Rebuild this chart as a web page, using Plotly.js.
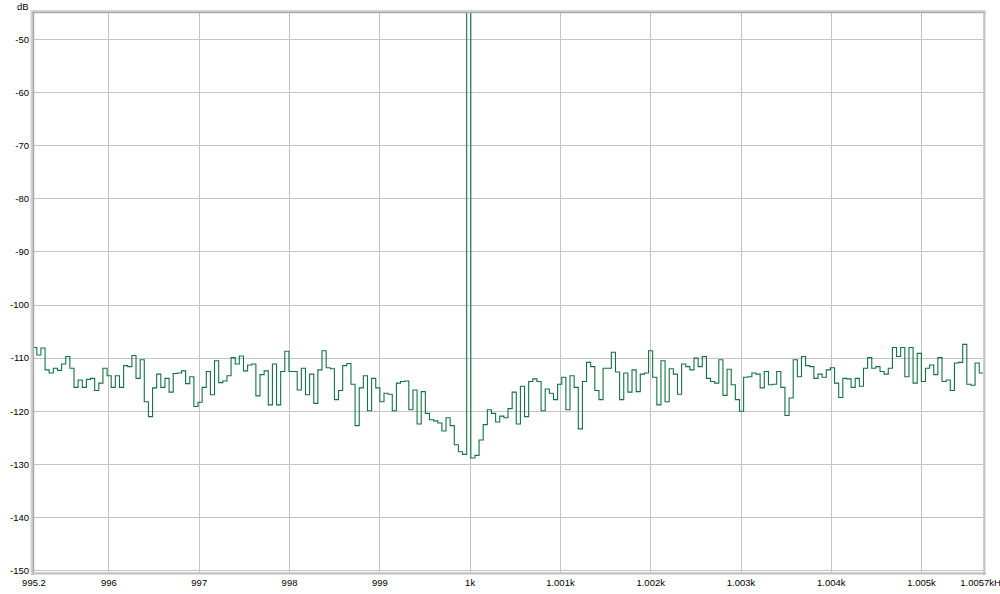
<!DOCTYPE html>
<html>
<head>
<meta charset="utf-8">
<script src="https://cdn.plot.ly/plotly-3.0.1.min.js"></script>
<style>
  html, body { margin: 0; padding: 0; background: #ffffff; }
  #chart { width: 1000px; height: 594px; }
</style>
</head>
<body>
<div id="chart"></div>
<script>
// FFT bin grid (Hz): bin width and index of the first bin shown
const binWidthHz = 48000 / 1048576;
const firstBinIndex = 21740;

// Level per bin (dB), left of the 1 kHz tone
const levelsBelowTone = [
  -108.0, -109.4, -108.1, -112.2, -112.8, -111.9, -112.3, -111.1, -109.7, -111.9,
  -115.5, -114.1, -115.5, -114.0, -113.8, -116.1, -114.7, -111.9, -113.3, -115.5,
  -113.3, -115.5, -111.4, -111.6, -109.5, -113.8, -110.3, -118.2, -121.0, -115.6,
  -113.0, -115.5, -113.8, -116.4, -112.9, -112.8, -112.4, -114.8, -113.5, -119.1,
  -118.3, -115.5, -112.5, -116.9, -110.5, -114.6, -114.3, -113.3, -109.9, -111.1,
  -109.6, -112.4, -111.3, -111.1, -117.1, -113.1, -112.4, -118.8, -111.1, -118.8,
  -112.5, -108.7, -112.5, -112.5, -116.0, -111.9, -116.9, -113.0, -118.5, -112.2,
  -108.6, -111.8, -112.0, -117.8, -116.1, -111.4, -111.0,
  -114.9, -122.7, -115.6, -113.3, -119.9, -113.8, -115.6, -118.2, -116.6, -116.8,
  -119.9, -114.7, -114.4, -114.3, -119.7, -116.0, -122.4, -116.3, -120.4, -121.6,
  -121.8, -122.2, -123.7, -121.2, -122.7, -126.3, -127.6, -128.1
];
// Level of the tone bin (off scale)
const toneLevel = [-5];
// Level per bin (dB), right of the tone
const levelsAboveTone = [
  -128.8, -128.3, -125.4, -122.5, -119.7, -120.4, -122.0, -120.9, -121.2, -119.5,
  -116.4, -122.4, -115.3, -121.0, -114.4, -113.9, -114.4, -119.9, -115.8, -116.6,
  -117.8, -114.9, -113.6, -119.7, -113.3, -115.5, -123.3, -114.4, -110.8, -111.6,
  -116.1, -117.8, -111.9, -111.9, -108.9, -112.6, -117.8, -112.8, -116.4, -112.2,
  -116.3, -113.0, -112.8, -108.6, -113.6, -118.8, -110.5, -118.2, -112.0, -113.0,
  -116.8, -111.1, -111.6, -112.2, -110.0, -111.6, -109.7, -113.8, -114.4, -114.7,
  -110.3, -117.0, -112.1, -115.0, -117.8, -120.0, -113.6, -113.5, -112.8, -113.0,
  -115.6, -112.5, -115.0, -114.9, -112.5, -115.5, -120.8, -117.5, -110.3, -113.5,
  -109.7, -111.4, -111.6, -113.8, -113.0, -113.6, -112.2, -111.8, -114.7, -117.4,
  -113.8, -113.9, -115.5, -113.8, -115.3, -111.9, -109.9, -111.9, -111.6, -112.5,
  -113.0, -111.9, -108.0, -109.7, -108.0, -113.5, -108.0, -114.7, -109.1, -114.4,
  -111.9, -111.3, -113.1, -109.9, -114.4, -114.1, -116.1, -110.9, -110.8, -107.4,
  -114.9, -115.1, -110.9, -112.8
];

// Axis ticks
const xTickValues = [995.17, 996, 997, 998, 999, 1000, 1001, 1002, 1003, 1004, 1005, 1005.68];
const xTickLabels = ['995.2', '996', '997', '998', '999', '1k', '1.001k', '1.002k', '1.003k', '1.004k', '1.005k', '1.0057kHz'];
const yTickValues = [-50, -60, -70, -80, -90, -100, -110, -120, -130, -140, -150];
const yTickLabels = ['-50', '-60', '-70', '-80', '-90', '-100', '-110', '-120', '-130', '-140', '-150'];
const xRange = [995.17, 1005.68];
const yRange = [-150.24, -45.05];

// Build step trace: each bin drawn from its lower edge to its upper edge
const levels = levelsBelowTone.concat(toneLevel, levelsAboveTone);
const xs = [], ys = [];
levels.forEach((v, i) => {
  xs.push((firstBinIndex + i - 0.5) * binWidthHz);
  ys.push(v);
});
xs.push((firstBinIndex + levels.length - 0.5) * binWidthHz);
ys.push(levels[levels.length - 1]);

const trace = {
  x: xs, y: ys, type: 'scatter', mode: 'lines',
  line: { shape: 'hv', color: '#137344', width: 1.1 },
  hoverinfo: 'skip'
};

// frame helpers (pixel -> paper)
const L = 34, R = 17, T = 13, B = 22, W = 1000, H = 594;
const pw = W - L - R, ph = H - T - B;
const px = v => (v - L) / pw;
const py = v => (H - B - v) / ph;
function rect(x0, y0, x1, y1, color) {
  return { type: 'rect', xref: 'paper', yref: 'paper', layer: 'above',
    x0: px(x0), x1: px(x1), y0: py(y1), y1: py(y0),
    fillcolor: color, line: { width: 0 } };
}
const shapes = [
  rect(30.5, 10, 32.5, 575, '#d2d2d2'),
  rect(32.5, 11.5, 34.2, 575, '#a6a6a6'),
  rect(30.5, 10, 985.5, 11.5, '#d6d6d6'),
  rect(32.5, 11.5, 985.5, 13.2, '#aaaaaa'),
  rect(983.2, 11.5, 985.5, 575, '#c2c2c2'),
  rect(32.5, 572.2, 985.5, 574.5, '#c2c2c2')
];

const font = { family: '"Liberation Sans", Arial, sans-serif', size: 9.5, color: '#000000' };

const layout = {
  width: W, height: H,
  margin: { l: L, r: R, t: T, b: B, pad: 0 },
  paper_bgcolor: '#ffffff', plot_bgcolor: '#ffffff',
  showlegend: false,
  font: font,
  xaxis: {
    range: xRange, tickmode: 'array', tickvals: xTickValues, ticktext: xTickLabels,
    showgrid: true, gridcolor: '#c4c4c4', gridwidth: 1, zeroline: false, showline: false,
    ticks: 'outside', ticklen: 2, tickcolor: 'rgba(0,0,0,0)',
    ticklabeloverflow: 'allow', tickangle: 0, tickfont: font, fixedrange: true
  },
  yaxis: {
    range: yRange, tickmode: 'array', tickvals: yTickValues, ticktext: yTickLabels,
    showgrid: true, gridcolor: '#c4c4c4', gridwidth: 1, zeroline: false, showline: false,
    ticks: 'outside', ticklen: 2, tickcolor: 'rgba(0,0,0,0)', tickfont: font, fixedrange: true
  },
  shapes: shapes,
  annotations: [{
    text: 'dB', xref: 'paper', yref: 'paper', x: px(23), y: py(6.5),
    xanchor: 'center', yanchor: 'middle', showarrow: false, font: font
  }]
};

Plotly.newPlot('chart', [trace], layout, { staticPlot: true, displayModeBar: false });
</script>
</body>
</html>
